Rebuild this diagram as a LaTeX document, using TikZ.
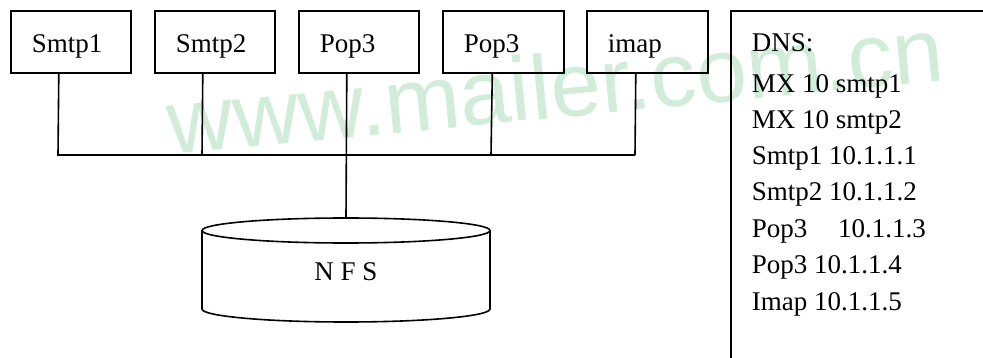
\documentclass[tikz,border=0pt]{standalone}
\usepackage{fontspec}
\setmainfont{Liberation Serif}
\newfontfamily\wmfont{Liberation Sans}
\definecolor{wmgreen}{RGB}{210,236,218}
\begin{document}
\begin{tikzpicture}[x=1pt,y=-1pt,
  line width=1.6pt,
  txt/.style={font=\fontsize{27}{32}\selectfont},
  srvbox/.style={draw, txt, anchor=north west, inner ysep=0pt, inner xsep=21pt,
    text width=78pt, align=left, text height=42pt, text depth=20pt},
  dnsline/.style={txt, anchor=base west, inner sep=0pt},
  wm/.style={font=\wmfont\fontsize{91}{91}\selectfont, text=wmgreen, inner sep=0pt}]
\useasboundingbox (0,0) rectangle (983,358);
\clip (0,0) rectangle (983,358);
% watermark
\node[wm, rotate=5.5, anchor=base west] (wmark) at (170,155) {www.mailer.com.cn};
% server boxes
\node[srvbox] (s1) at (10,10) {Smtp1};
\node[srvbox] (s2) at (154,10) {Smtp2};
\node[srvbox] (p1) at (298,10) {Pop3};
\node[srvbox, text width=79pt] (p2) at (442,10) {Pop3};
\node[srvbox, text width=79pt] (im) at (586,10) {imap};
% bus junctions
\coordinate (j1) at (58,155);
\coordinate (j2) at (202,155);
\coordinate (j3) at (346,155);
\coordinate (j4) at (491,155);
\coordinate (j5) at (635,155);
\coordinate (nfstop) at (346,218);
\draw ([xshift=-12pt]s1.south) -- (j1) -- (j5);
\draw ([xshift=-12pt]s2.south) -- (j2);
\draw ([xshift=-12pt]p1.south) -- (nfstop);
\draw ([xshift=-11pt]p2.south) -- (j4);
\draw ([xshift=-11.5pt]im.south) -- (j5);
% NFS cylinder
\draw (202,230.5) -- (202,309) arc[start angle=180, end angle=0, x radius=144, y radius=13] -- (490,230.5);
\draw (346,230.5) ellipse[x radius=144, y radius=12.5];
\node[txt, anchor=base, inner sep=0pt] (nfs) at (346,280) {N F S};
% DNS box
\node[draw, anchor=north west, minimum width=320pt, minimum height=420pt] (dnsbox) at (730,10) {};
\node[dnsline] (d1) at (751,52) {DNS:};
\node[dnsline] (d2) at (751,93) {MX 10 smtp1};
\node[dnsline] (d3) at (751,129) {MX 10 smtp2};
\node[dnsline] (d4) at (751,165) {Smtp1 10.1.1.1};
\node[dnsline] (d5) at (751,201) {Smtp2 10.1.1.2};
\node[dnsline] (d6) at (751,238) {Pop3\hspace{24pt} 10.1.1.3};
\node[dnsline] (d7) at (751,274) {Pop3 10.1.1.4};
\node[dnsline] (d8) at (751,310) {Imap 10.1.1.5};
\end{tikzpicture}
\end{document}
